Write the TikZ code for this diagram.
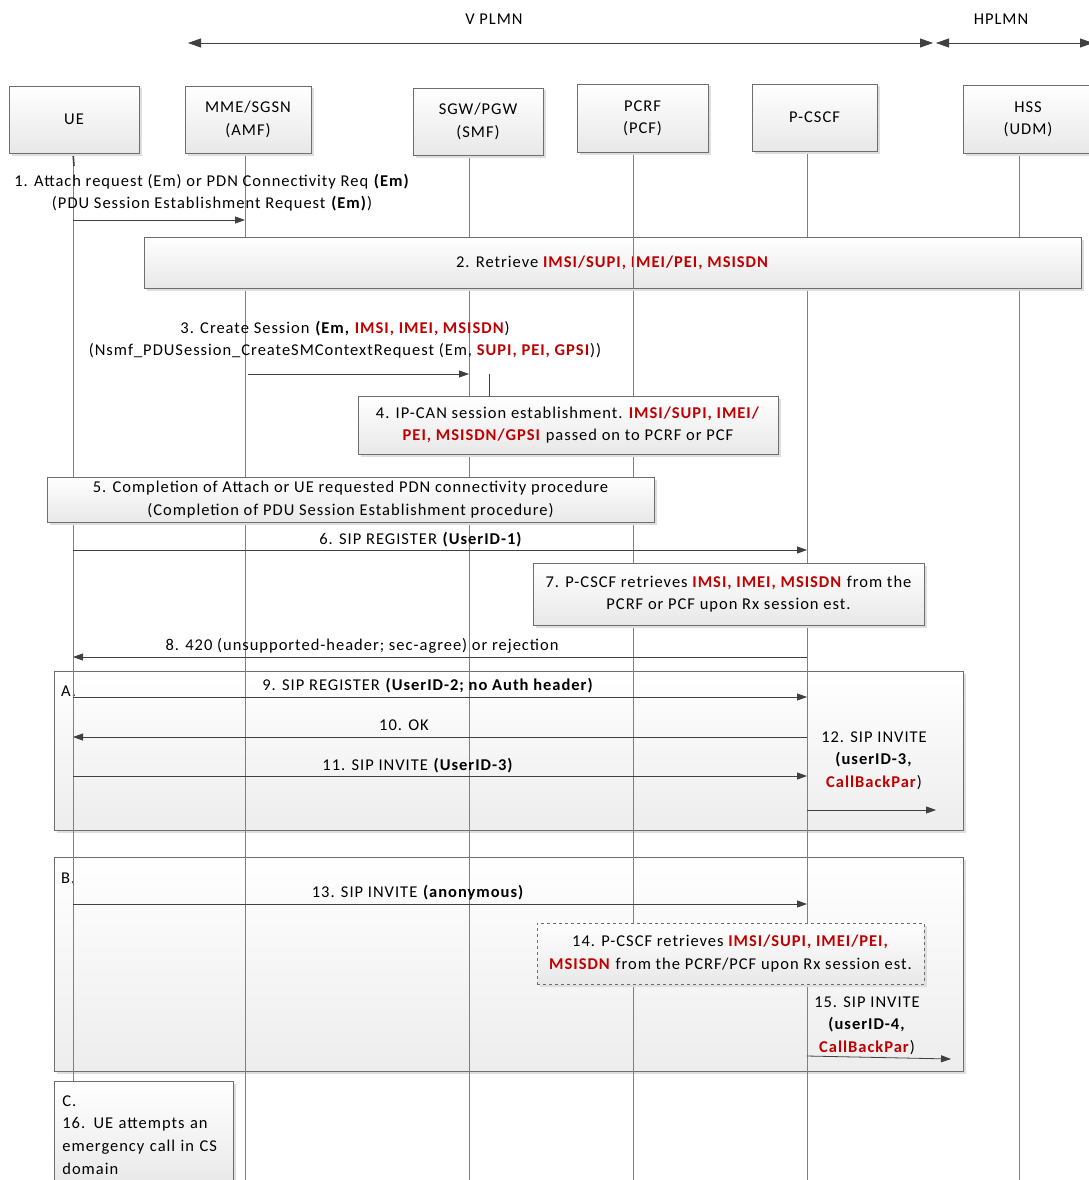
\documentclass[tikz,border=0pt]{standalone}
\usepackage{fontspec}
\setmainfont{Carlito}[LetterSpace=6]
\usetikzlibrary{arrows.meta,shadows,calc}
\definecolor{myred}{HTML}{C00000}
\definecolor{lc}{HTML}{808080}
\definecolor{ac}{HTML}{404040}
\definecolor{bc}{HTML}{6E6E6E}
\newcommand\rb[1]{\textcolor{myred}{\textbf{#1}}}
\newcommand\tf{\fontsize{16.5}{22.3}\selectfont}
\begin{document}
\begin{tikzpicture}[x=1pt,y=-1pt,
  shad/.style={drop shadow={shadow xshift=2.5pt,shadow yshift=-2.5pt,fill=black!13,opacity=1}},
  box/.style={draw=bc, line width=0.8pt, top color=white, bottom color=black!9, shad, font=\tf, align=center, inner sep=2pt},
  grp/.style={draw=bc, line width=0.8pt, top color=white, bottom color=black!7, shad},
  msg/.style={draw=ac, line width=0.8pt, -{Triangle[length=10pt,width=7pt]}},
  plmn/.style={draw=ac, line width=0.8pt, {Triangle[length=13pt,width=9pt]}-{Triangle[length=13pt,width=9pt]}},
  life/.style={draw=lc, line width=0.9pt},
  lbl/.style={font=\tf, align=center, inner sep=0pt, yshift=-1.5pt}]
\useasboundingbox (0,0) rectangle (1088,1180);
\fill[white] (0,0) rectangle (1088,1180);

% PLMN ranges
\node[lbl] (vplmn) at (494,18) {V PLMN};
\node[lbl] (hplmn) at (1001,18) {HPLMN};
\coordinate (vL) at (188,43); \coordinate (vR) at (933,43);
\coordinate (hL) at (936,43); \coordinate (hR) at (1093,43);
\draw[plmn] (vL) -- (vR);
\draw[plmn] (hL) -- (hR);

% group boxes
\node[grp, minimum width=909, minimum height=159] (grpA) at (508.5,750.5) {};
\node[grp, minimum width=909, minimum height=214] (grpB) at (508.5,964) {};
\node[lbl, anchor=west] (labA) at (61,690) {A.};
\node[lbl, anchor=west] (labB) at (61,877) {B.};

% lifelines
\coordinate (ueT) at (73,153);   \coordinate (ueB) at (73,1081);
\coordinate (mmeT) at (245,153); \coordinate (mmeB) at (245,1180);
\coordinate (sgwT) at (469,155); \coordinate (sgwB) at (469,1180);
\coordinate (pcrfT) at (633,152); \coordinate (pcrfB) at (633,1180);
\coordinate (pcsT) at (807,151); \coordinate (pcsB) at (807,1180);
\coordinate (hssT) at (1019,153); \coordinate (hssB) at (1019,1180);
\draw[life] (ueT) -- (ueB);
\draw[life] (mmeT) -- (mmeB);
\draw[life] (sgwT) -- (sgwB);
\draw[life] (pcrfT) -- (pcrfB);
\draw[life] (pcsT) -- (pcsB);
\draw[life] (hssT) -- (hssB);
\coordinate (ueA) at (74,166);
\draw[draw=ac, line width=1.6pt] (ueT) -- (ueA);

% entity boxes
\node[box, minimum width=130, minimum height=67] (ue) at (74,119.5) {UE};
\node[box, minimum width=126, minimum height=67] (mme) at (248,119.5) {MME/SGSN\\(AMF)};
\node[box, minimum width=130, minimum height=67] (sgw) at (478,121.5) {SGW/PGW\\(SMF)};
\node[box, minimum width=131, minimum height=68] (pcrf) at (642.5,118) {PCRF\\(PCF)};
\node[box, minimum width=125, minimum height=67] (pcscf) at (814.5,117.5) {P-CSCF};
\node[box, minimum width=130, minimum height=68] (hss) at (1028,119) {HSS\\(UDM)};

% step boxes
\node[box, minimum width=937, minimum height=51] (b2) at (612.5,262.5) {2. Retrieve \rb{IMSI/SUPI, IMEI/PEI, MSISDN}};
\draw[life] (b2.north -| pcrfT) -- (b2.south -| pcrfT);
\node[box, minimum width=420, minimum height=58] (b4) at (568,425) {4. IP-CAN session establishment. \rb{IMSI/SUPI, IMEI/}\\\rb{PEI, MSISDN/GPSI} passed on to PCRF or PCF};
\node[box, minimum width=607, minimum height=45] (b5) at (350.5,499.5) {5. Completion of Attach or UE requested PDN connectivity procedure\\(Completion of PDU Session Establishment procedure)};
\node[box, minimum width=391, minimum height=62] (b7) at (728.5,594) {7. P-CSCF retrieves \rb{IMSI, IMEI, MSISDN} from the\\PCRF or PCF upon Rx session est.};
\node[box, dashed, minimum width=387, minimum height=61] (b14) at (730.5,953.5) {14. P-CSCF retrieves \rb{IMSI/SUPI, IMEI/PEI,}\\\rb{MSISDN} from the PCRF/PCF upon Rx session est.};
\node[box, anchor=north west, text width=163pt, align=left, inner xsep=8pt, inner ysep=14pt, font=\fontsize{16.5}{22.7}\selectfont] (bC) at (54,1081) {C.\\16. UE attempts an\\emergency call in CS\\domain};

% messages
\node[lbl] (t1) at (212,191) {1. Attach request (Em) or PDN Connectivity Req \textbf{(Em)}\\(PDU Session Establishment Request \textbf{(Em)})};
\draw[msg] (ueT |- 0,220) -- (mmeT |- 0,220);

\node[lbl] (t3) at (345,338) {3. Create Session \textbf{(Em, }\rb{IMSI, IMEI, MSISDN})\\(Nsmf\_PDUSession\_CreateSMContextRequest (Em, \rb{SUPI, PEI, GPSI}))};
\draw[msg] (mme.south |- 0,374) -- (sgwT |- 0,374);
\coordinate (s4) at (489,374);
\draw[draw=ac, line width=0.8pt] (s4) -- (s4 |- b4.north);

\node[lbl] (t6) at (421,538) {6. SIP REGISTER \textbf{(UserID-1)}};
\draw[msg] (ueT |- 0,550) -- (pcsT |- 0,550);

\node[lbl] (t8) at (362,644) {8. 420 (unsupported-header; sec-agree) or rejection};
\draw[msg] (pcsT |- 0,657) -- (ueT |- 0,657);

\node[lbl] (t9) at (428,684) {9. SIP REGISTER \textbf{(UserID-2; no Auth header)}};
\draw[msg] (ueT |- 0,697) -- (pcsT |- 0,697);

\node[lbl] (t10) at (404,724) {10. OK};
\draw[msg] (pcsT |- 0,737) -- (ueT |- 0,737);

\node[lbl] (t11) at (418,764) {11. SIP INVITE \textbf{(UserID-3)}};
\draw[msg] (ueT |- 0,776) -- (pcsT |- 0,776);

\node[lbl] (t12) at (874,759) {12. SIP INVITE\\\textbf{(userID-3,}\\\rb{CallBackPar})};
\coordinate (e12) at (936,810);
\draw[msg] (pcsT |- 0,810) -- (e12);

\node[lbl] (t13) at (418,891) {13. SIP INVITE \textbf{(anonymous)}};
\draw[msg] (ueT |- 0,904) -- (pcsT |- 0,904);

\node[lbl] (t15) at (867,1024) {15. SIP INVITE\\\textbf{(userID-4,}\\\rb{CallBackPar})};
\coordinate (e15) at (951,1059);
\draw[msg] (pcsT |- 0,1056) -- (e15);
\end{tikzpicture}
\end{document}
